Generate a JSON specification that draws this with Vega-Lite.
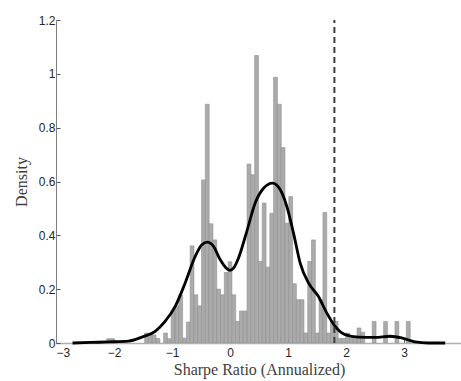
{
  "$schema": "https://vega.github.io/schema/vega-lite/v6.json",
  "width": 406,
  "height": 323,
  "autosize": {"type": "none"},
  "padding": {"left": 56, "top": 20, "right": 0, "bottom": 38},
  "background": "white",
  "config": {
    "view": {"stroke": null},
    "axis": {
      "labelFont": "Liberation Sans",
      "labelFontSize": 12,
      "labelColor": "#262626",
      "titleFont": "Liberation Serif",
      "titleFontSize": 16,
      "titleFontWeight": "normal",
      "titleColor": "#404040",
      "grid": false,
      "tickColor": "#555555",
      "tickSize": -4,
      "format": "~g"
    }
  },
  "datasets": {
    "hist": [
      {"x0": -2.1255, "x1": -2.0601, "density": 0.016},
      {"x0": -2.0601, "x1": -1.9947, "density": 0.016},
      {"x0": -1.4715, "x1": -1.4061, "density": 0.037},
      {"x0": -1.4061, "x1": -1.3407, "density": 0.037},
      {"x0": -1.3407, "x1": -1.2753, "density": 0.03},
      {"x0": -1.2753, "x1": -1.2099, "density": 0.017},
      {"x0": -1.1445, "x1": -1.0791, "density": 0.037},
      {"x0": -1.0791, "x1": -1.0137, "density": 0.016},
      {"x0": -1.0137, "x1": -0.9483, "density": 0.121},
      {"x0": -0.9483, "x1": -0.8829, "density": 0.138},
      {"x0": -0.8829, "x1": -0.8175, "density": 0.179},
      {"x0": -0.8175, "x1": -0.7521, "density": 0.018},
      {"x0": -0.7521, "x1": -0.6867, "density": 0.078},
      {"x0": -0.6867, "x1": -0.6213, "density": 0.361},
      {"x0": -0.6213, "x1": -0.5559, "density": 0.179},
      {"x0": -0.5559, "x1": -0.4905, "density": 0.138},
      {"x0": -0.4905, "x1": -0.4251, "density": 0.606},
      {"x0": -0.4251, "x1": -0.3597, "density": 0.887},
      {"x0": -0.3597, "x1": -0.2943, "density": 0.443},
      {"x0": -0.2943, "x1": -0.2289, "density": 0.383},
      {"x0": -0.2289, "x1": -0.1635, "density": 0.2},
      {"x0": -0.1635, "x1": -0.0981, "density": 0.179},
      {"x0": -0.0981, "x1": -0.0327, "density": 0.262},
      {"x0": -0.0327, "x1": 0.0327, "density": 0.302},
      {"x0": 0.0327, "x1": 0.0981, "density": 0.179},
      {"x0": 0.0981, "x1": 0.1635, "density": 0.08},
      {"x0": 0.1635, "x1": 0.2289, "density": 0.119},
      {"x0": 0.2289, "x1": 0.2943, "density": 0.119},
      {"x0": 0.2943, "x1": 0.3597, "density": 0.665},
      {"x0": 0.3597, "x1": 0.4251, "density": 0.625},
      {"x0": 0.4251, "x1": 0.4905, "density": 1.068},
      {"x0": 0.4905, "x1": 0.5559, "density": 0.303},
      {"x0": 0.5559, "x1": 0.6213, "density": 0.52},
      {"x0": 0.6213, "x1": 0.6867, "density": 0.282},
      {"x0": 0.6867, "x1": 0.7521, "density": 0.482},
      {"x0": 0.7521, "x1": 0.8175, "density": 0.987},
      {"x0": 0.8175, "x1": 0.8829, "density": 0.887},
      {"x0": 0.8829, "x1": 0.9483, "density": 0.726},
      {"x0": 0.9483, "x1": 1.0137, "density": 0.445},
      {"x0": 1.0137, "x1": 1.0791, "density": 0.544},
      {"x0": 1.0791, "x1": 1.1445, "density": 0.22},
      {"x0": 1.1445, "x1": 1.2099, "density": 0.161},
      {"x0": 1.2099, "x1": 1.2753, "density": 0.161},
      {"x0": 1.2753, "x1": 1.3407, "density": 0.037},
      {"x0": 1.3407, "x1": 1.4061, "density": 0.303},
      {"x0": 1.4061, "x1": 1.4715, "density": 0.383},
      {"x0": 1.4715, "x1": 1.5369, "density": 0.037},
      {"x0": 1.5369, "x1": 1.6023, "density": 0.161},
      {"x0": 1.6023, "x1": 1.6677, "density": 0.485},
      {"x0": 1.6677, "x1": 1.7331, "density": 0.037},
      {"x0": 1.7331, "x1": 1.7985, "density": 0.08},
      {"x0": 1.7985, "x1": 1.8639, "density": 0.08},
      {"x0": 1.8639, "x1": 1.9293, "density": 0.017},
      {"x0": 1.9293, "x1": 1.9947, "density": 0.017},
      {"x0": 1.9947, "x1": 2.0601, "density": 0.037},
      {"x0": 2.0601, "x1": 2.1255, "density": 0.017},
      {"x0": 2.1255, "x1": 2.1909, "density": 0.017},
      {"x0": 2.1909, "x1": 2.2563, "density": 0.056},
      {"x0": 2.2563, "x1": 2.3217, "density": 0.04},
      {"x0": 2.4525, "x1": 2.5179, "density": 0.08},
      {"x0": 2.6487, "x1": 2.7141, "density": 0.08},
      {"x0": 2.8449, "x1": 2.9103, "density": 0.08},
      {"x0": 3.0411, "x1": 3.1065, "density": 0.08}
    ],
    "kde": [
      {"x": -2.715, "y": 0.0},
      {"x": -2.4, "y": 0.002},
      {"x": -2.095, "y": 0.004},
      {"x": -1.75, "y": 0.007},
      {"x": -1.52, "y": 0.022},
      {"x": -1.29, "y": 0.043},
      {"x": -1.12, "y": 0.08},
      {"x": -0.945, "y": 0.136},
      {"x": -0.773, "y": 0.223},
      {"x": -0.6, "y": 0.322},
      {"x": -0.485, "y": 0.365},
      {"x": -0.388, "y": 0.375},
      {"x": -0.284, "y": 0.359},
      {"x": -0.17, "y": 0.31},
      {"x": -0.055, "y": 0.276},
      {"x": 0.0, "y": 0.27},
      {"x": 0.06, "y": 0.278},
      {"x": 0.147, "y": 0.316},
      {"x": 0.29, "y": 0.415},
      {"x": 0.434, "y": 0.52},
      {"x": 0.578, "y": 0.575},
      {"x": 0.733, "y": 0.594},
      {"x": 0.865, "y": 0.57},
      {"x": 0.98, "y": 0.507},
      {"x": 1.095, "y": 0.408},
      {"x": 1.21, "y": 0.297},
      {"x": 1.353, "y": 0.223},
      {"x": 1.525, "y": 0.173},
      {"x": 1.67, "y": 0.111},
      {"x": 1.813, "y": 0.062},
      {"x": 1.985, "y": 0.031},
      {"x": 2.215, "y": 0.022},
      {"x": 2.5, "y": 0.021},
      {"x": 2.76, "y": 0.025},
      {"x": 2.96, "y": 0.019},
      {"x": 3.19, "y": 0.004},
      {"x": 3.42, "y": 0.0},
      {"x": 3.71, "y": 0.0}
    ],
    "cut": [{"x": 1.8, "y0": 0, "y1": 1.2}]
  },
  "layer": [
    {
      "data": {"name": "hist"},
      "mark": {"type": "bar", "fill": "#ababab", "stroke": "#8f8f8f", "strokeWidth": 0.6, "clip": true},
      "encoding": {
        "x": {
          "field": "x0", "type": "quantitative",
          "scale": {"domain": [-3, 4], "nice": false, "zero": false},
          "axis": {
            "values": [-3, -2, -1, 0, 1, 2, 3],
            "title": "Sharpe Ratio (Annualized)",
            "domainColor": "#b0b0b0",
            "domainWidth": 1.5,
            "labelPadding": 8,
            "titlePadding": 3
          }
        },
        "x2": {"field": "x1"},
        "y": {
          "field": "density", "type": "quantitative",
          "scale": {"domain": [0, 1.2], "nice": false},
          "axis": {
            "values": [0, 0.2, 0.4, 0.6, 0.8, 1, 1.2],
            "title": "Density",
            "domainColor": "#7f7f7f",
            "labelPadding": 5,
            "titlePadding": 9
          }
        },
        "y2": {"datum": 0}
      }
    },
    {
      "data": {"name": "kde"},
      "mark": {"type": "line", "color": "#000000", "strokeWidth": 2.8, "interpolate": "monotone"},
      "encoding": {
        "x": {"field": "x", "type": "quantitative"},
        "y": {"field": "y", "type": "quantitative"}
      }
    },
    {
      "data": {"name": "cut"},
      "mark": {"type": "rule", "color": "#3c3c3c", "strokeWidth": 2, "strokeDash": [6, 4]},
      "encoding": {
        "x": {"field": "x", "type": "quantitative"},
        "y": {"field": "y0", "type": "quantitative"},
        "y2": {"field": "y1"}
      }
    }
  ]
}
